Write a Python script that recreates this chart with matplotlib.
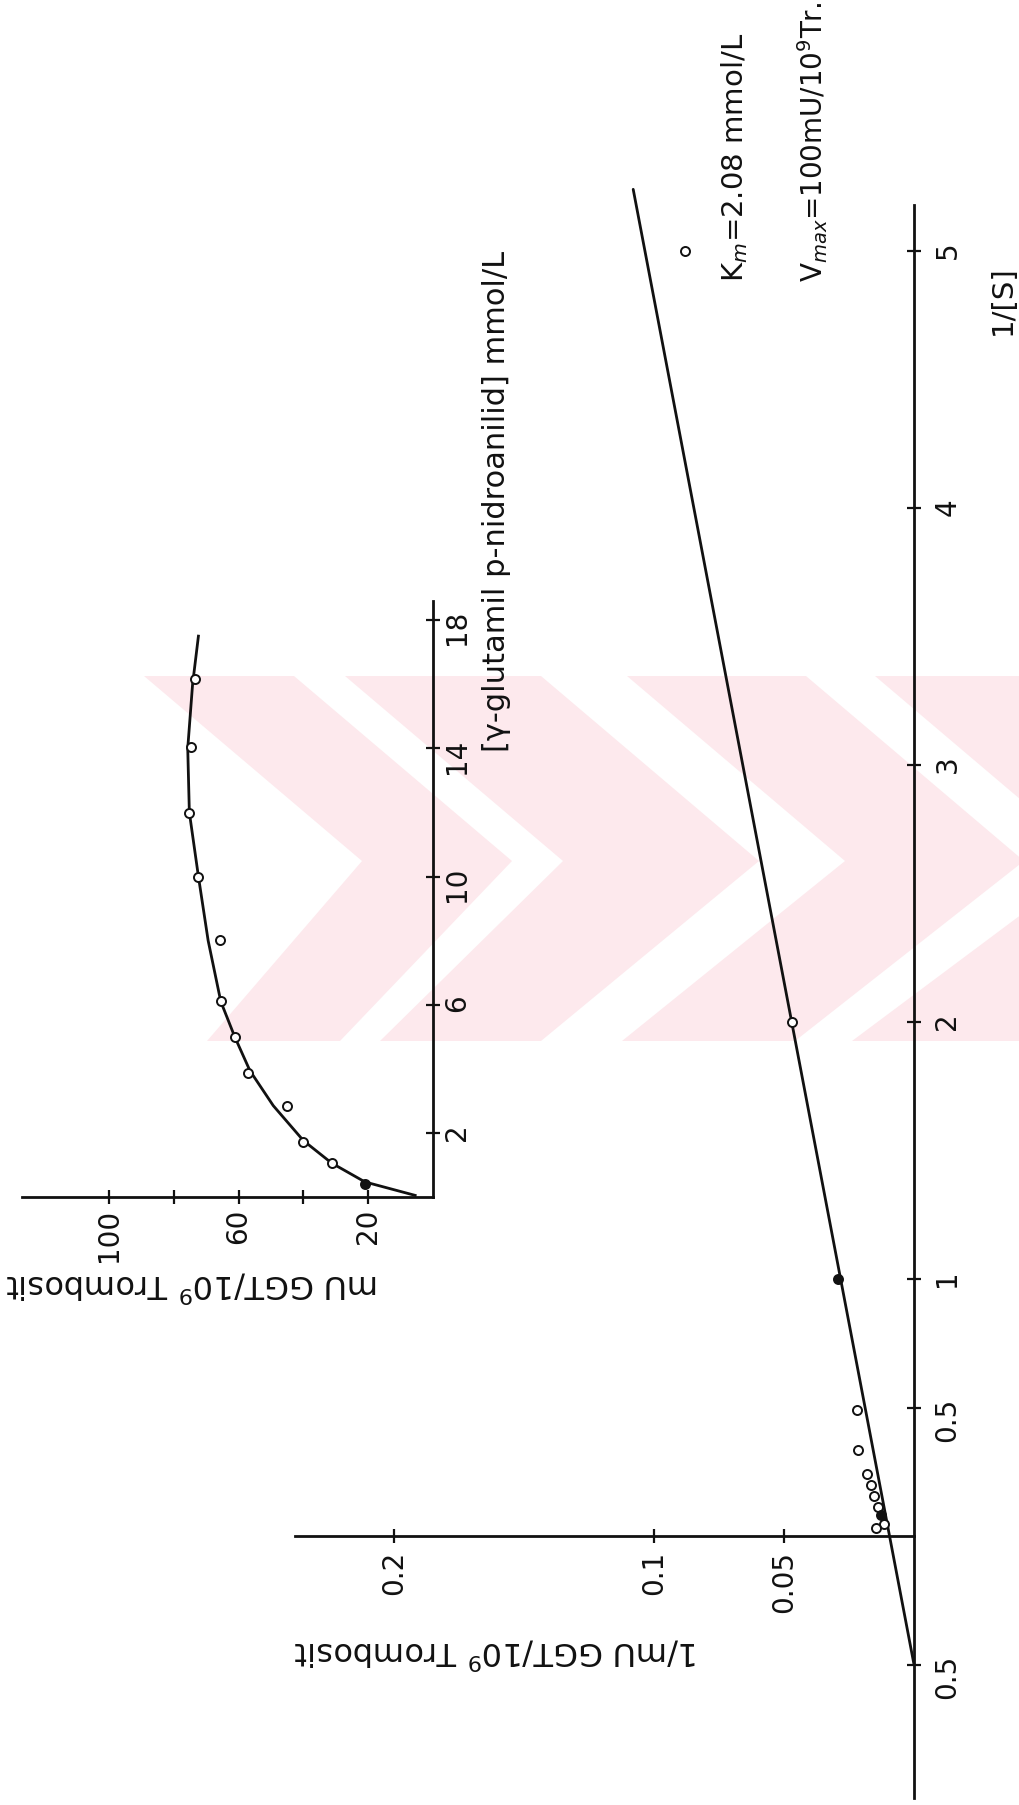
import matplotlib
matplotlib.use("Agg")
import matplotlib.pyplot as plt
from matplotlib.patches import Polygon

plt.rcParams['font.family'] = ['DejaVu Sans']
plt.rcParams['mathtext.fontset'] = 'dejavusans'

W, H, DPI = 1019, 1806, 100

# ---------------- Lineweaver-Burk plot: 1/[S] against 1/v ----------------
inv_s_open = [5.0, 2.0, 0.49, 0.335, 0.24, 0.198, 0.157, 0.112, 0.047, 0.030]
inv_v_open = [0.088, 0.047, 0.022, 0.0217, 0.018, 0.0165, 0.0153, 0.0137, 0.0115, 0.0146]
inv_s_filled = [1.0, 0.082]
inv_v_filled = [0.0293, 0.0128]
fit_inv_s = [-0.5, 5.24]
fit_inv_v = [0.0, 0.108]

inv_s_ticks = [-0.5, 0.5, 1, 2, 3, 4, 5]
inv_s_ticklabels = ["0.5", "0.5", "1", "2", "3", "4", "5"]
inv_v_ticks = [0.05, 0.1, 0.2]
inv_v_ticklabels = ["0.05", "0.1", "0.2"]

# ---------------- Saturation curve: [S] against v ----------------
sub_open = [1.05, 1.73, 2.84, 3.88, 4.98, 6.1, 8.02, 10.0, 11.97, 14.03, 16.15]
act_open = [31.3, 40.2, 45.2, 57.2, 61.2, 65.5, 65.6, 72.4, 75.2, 74.8, 73.6]
sub_filled = [0.4]
act_filled = [21.0]
curve_sub = [0.05, 0.47, 1.06, 1.76, 2.85, 3.94, 5.0, 6.1, 8.0, 10.0, 12.0, 14.0, 16.0, 17.5]
curve_act = [5.5, 21.0, 31.3, 40.0, 49.3, 56.5, 61.2, 65.5, 69.4, 72.4, 75.2, 75.7, 74.2, 72.4]

sub_ticks = [2, 6, 10, 14, 18]
sub_ticklabels = ["2", "6", "10", "14", "18"]
act_ticks = [20, 40, 60, 80, 100]
act_ticklabels = ["20", "", "60", "", "100"]

INK = "#111111"
PINK = "#fde9ed"

fig = plt.figure(figsize=(W / DPI, H / DPI), dpi=DPI, facecolor="white")

# background layer in pixel units (watermark and free text)
bg = fig.add_axes([0, 0, 1, 1], zorder=0)
bg.set_xlim(0, W)
bg.set_ylim(H, 0)
bg.axis("off")


def chevron(top, bottom, y0=677, ym=862, y1=1042, shift=218):
    a, b = top
    c, d = bottom
    return [(a, y0), (b, y0), (b + shift, ym), (d, y1), (c, y1), (a + shift, ym)]


for top, bottom in [((144, 294), (207, 340)),
                    ((345, 541), (380, 541)),
                    ((627, 806), (622, 795)),
                    ((875, 1300), (852, 1300))]:
    bg.add_patch(Polygon(chevron(top, bottom), closed=True,
                         facecolor=PINK, edgecolor="none"))


def style_axes(a, xlim, ylim, vbounds, hbounds):
    a.set_facecolor("none")
    a.set_xlim(*xlim)
    a.set_ylim(*ylim)
    a.spines["top"].set_visible(False)
    a.spines["left"].set_visible(False)
    a.spines["right"].set_position(("data", 0))
    a.spines["right"].set_bounds(*vbounds)
    a.spines["bottom"].set_position(("data", 0))
    a.spines["bottom"].set_bounds(*hbounds)
    for s in ("right", "bottom"):
        a.spines[s].set_linewidth(2.0)
        a.spines[s].set_color(INK)
    a.yaxis.tick_right()
    a.tick_params(axis="both", direction="inout", length=10, width=1.6,
                  colors=INK, labelsize=20)


# main Lineweaver-Burk axes
ax = fig.add_axes([0, 0, 1, 1], zorder=1)
style_axes(ax, (914 / 2600, (914 - W) / 2600), ((1537 - H) / 257, 1537 / 257),
           (-1.02, 5.18), (0, 0.238))
ax.set_yticks(inv_s_ticks, inv_s_ticklabels)
ax.set_xticks(inv_v_ticks, inv_v_ticklabels)
ax.tick_params(axis="y", labelrotation=90, pad=9)
ax.tick_params(axis="x", labelrotation=90, pad=5)
ax.plot(fit_inv_v, fit_inv_s, color=INK, lw=2.0, solid_capstyle="round")
ax.plot(inv_v_open, inv_s_open, "o", ms=6.5, mfc="white", mec=INK, mew=1.4)
ax.plot(inv_v_filled, inv_s_filled, "o", ms=6.5, mfc=INK, mec=INK, mew=1.4)

# inset saturation-curve axes
ax2 = fig.add_axes([0, 0, 1, 1], zorder=2)
style_axes(ax2, (433 / 3.24, (433 - W) / 3.24), ((1198 - H) / 32.05, 1198 / 32.05),
           (0, 18.6), (0, 126.9))
ax2.set_yticks(sub_ticks, sub_ticklabels)
ax2.set_xticks(act_ticks, act_ticklabels)
ax2.tick_params(axis="y", labelrotation=90, pad=2)
ax2.tick_params(axis="x", labelrotation=90, pad=3)
ax2.plot(curve_act, curve_sub, color=INK, lw=2.0)
ax2.plot(act_open, sub_open, "o", ms=6.5, mfc="white", mec=INK, mew=1.4)
ax2.plot(act_filled, sub_filled, "o", ms=6.5, mfc=INK, mec=INK, mew=1.4)

# axis titles and kinetic constants
bg.text(497, 1652, r"1/mU GGT/10$^9$ Trombosit", rotation=180, ha="center",
        va="center", fontsize=23, color=INK)
bg.text(192, 1285, r"mU GGT/10$^9$ Trombosit", rotation=180, ha="center",
        va="center", fontsize=23, color=INK)
bg.text(497, 752, "[γ-glutamil p-nidroanilid] mmol/L", rotation=90, ha="center",
        va="bottom", fontsize=22, color=INK)
bg.text(735, 282, r"K$_m$=2.08 mmol/L", rotation=90, ha="center", va="bottom",
        fontsize=21, color=INK)
bg.text(813, 282, r"V$_{max}$=100mU/10$^9$Tr.", rotation=90, ha="center",
        va="bottom", fontsize=20, color=INK)
bg.text(1003, 335, "1/[S]", rotation=90, ha="center", va="bottom",
        fontsize=21, color=INK)

fig.savefig("out.png", dpi=DPI, facecolor="white")
